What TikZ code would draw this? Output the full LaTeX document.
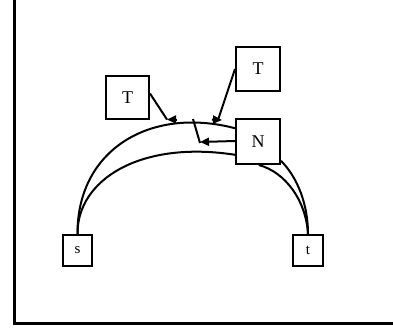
\documentclass[tikz,border=0pt]{standalone}
\usepackage{fontspec}
\setmainfont{Liberation Serif}
\usetikzlibrary{arrows.meta}
\begin{document}
\begin{tikzpicture}[x=1pt,y=-1pt,
  box/.style={draw,line width=2pt,inner sep=0pt,font=\fontsize{18}{18}\selectfont},
  edge/.style={line width=2pt},
  tip/.style={line width=2pt,-{Triangle[length=9pt,width=8pt]}}]
\useasboundingbox (0,0) rectangle (393,330);
\draw[line width=3pt] (14.5,0) -- (14.5,323.5) -- (393,323.5);
\node[box,minimum width=43pt,minimum height=43pt] (T1) at (127.5,97.5) {T};
\node[box,minimum width=44pt,minimum height=44pt] (T2) at (258,69) {T};
\node[box,minimum width=44pt,minimum height=45pt] (N) at (258,141.5) {N};
\node[box,minimum width=29pt,minimum height=31pt,font=\fontsize{15}{15}\selectfont] (s) at (77.5,250.5) {s};
\node[box,minimum width=30pt,minimum height=31pt,font=\fontsize{15}{15}\selectfont] (t) at (308,250.5) {t};
% arcs
\draw[edge] (s.north) .. controls (77,150) and (150,106) .. (N.150);
\draw[edge] (s.north) .. controls (77,180) and (140,140) .. (N.210);
\draw[edge] (N.-88) .. controls (285,172) and (306,200) .. (t.north);
\draw[edge] (N.-40) .. controls (298,178) and (308,205) .. (t.north);
% arrows onto edges
\coordinate (a1) at (167,119.5);
\coordinate (a2) at (222,120);
\coordinate (b1) at (193,119);
\coordinate (b2) at (200,143);
\draw[edge] (T1.10) -- (a1);
\draw[tip] (176,119.5) -- (a1);
\draw[edge] (T2.west) -- (218,120);
\draw[tip] (212,119.5) -- (a2);
\draw[edge] (b1) -- (b2);
\draw[tip] (N.west |- 0,141) -- (b2 |- 0,142);
\end{tikzpicture}
\end{document}
